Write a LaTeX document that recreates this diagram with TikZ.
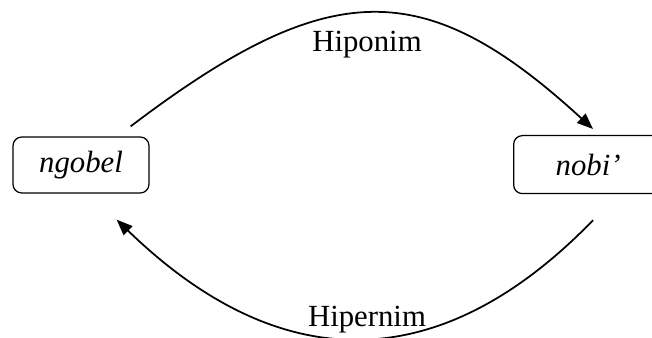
\documentclass[tikz,border=0pt]{standalone}
\usepackage{fontspec}
\setmainfont{Liberation Serif}
\usetikzlibrary{arrows.meta}

\begin{document}
\begin{tikzpicture}[x=0.4pt, y=-0.4pt, font=\fontsize{12.3}{15}\selectfont,
		term/.style={draw, line width=0.5pt, rounded corners=3.5pt, inner sep=0pt, font=\fontsize{12.3}{15}\selectfont\itshape},
		rel/.style={line width=0.7pt, -{Triangle[length=6.4pt, width=5pt]}}]
		\useasboundingbox (0, 0) rectangle (652, 338);
		
		% Words
		\node[term, minimum width=54.4pt, minimum height=22.4pt] (ngobel) at (81, 165) {ngobel};
		\node[term, anchor=north west, text width=30pt, align=left, inner xsep=16.8pt, minimum height=23.2pt] (nobi) at (513, 135) {nobi’};
		
		% Relations
		\draw[rel] ([shift={(-19, -10)}]ngobel.north east) .. controls (330, -25) and (425, -25) .. ([shift={(80, -6)}]nobi.north west);
		\node[anchor=base] (hiponim) at (367, 52) {Hiponim};
		\draw[rel] ([shift={(80, 26)}]nobi.south west) .. controls (440, 378) and (280, 378) .. ([shift={(-33, 26)}]ngobel.south east);
		\node[anchor=base] (hipernim) at (367, 327) {Hipernim};
	\end{tikzpicture}
\end{document}
